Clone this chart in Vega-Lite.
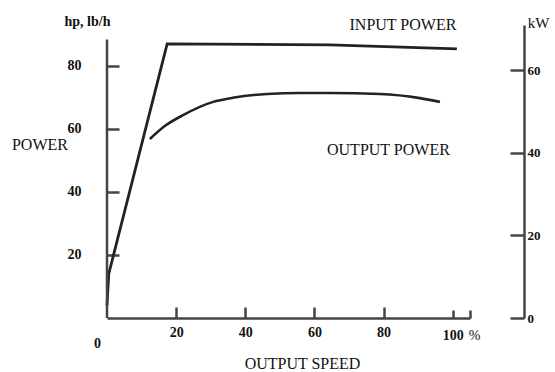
{
  "$schema": "https://vega.github.io/schema/vega-lite/v6.json",
  "width": 363,
  "height": 293,
  "autosize": {"type": "none"},
  "padding": {"left": 107, "top": 25, "right": 85, "bottom": 54},
  "background": "white",
  "config": {"view": {"stroke": null}, "font": "Liberation Serif", "axis": {"labelFont": "Liberation Serif", "titleFont": "Liberation Serif"}},
  "datasets": {
    "curves": [
      {"series": "input", "speed": 0, "power": 4},
      {"series": "input", "speed": 0.5, "power": 14},
      {"series": "input", "speed": 17.4, "power": 87.0},
      {"series": "input", "speed": 64.5, "power": 86.7},
      {"series": "input", "speed": 101.2, "power": 85.4},
      {"series": "output", "speed": 12.4, "power": 56.8},
      {"series": "output", "speed": 16.8, "power": 61.0},
      {"series": "output", "speed": 22.0, "power": 64.4},
      {"series": "output", "speed": 30.7, "power": 68.6},
      {"series": "output", "speed": 36.4, "power": 69.9},
      {"series": "output", "speed": 46.3, "power": 71.1},
      {"series": "output", "speed": 55.8, "power": 71.4},
      {"series": "output", "speed": 64.5, "power": 71.4},
      {"series": "output", "speed": 79.0, "power": 71.1},
      {"series": "output", "speed": 90.5, "power": 69.8},
      {"series": "output", "speed": 96.3, "power": 68.6}
    ],
    "labels": [
      {"label": "INPUT POWER", "speed": 85.6, "power": 93.0},
      {"label": "OUTPUT POWER", "speed": 81.4, "power": 53.3}
    ]
  },
  "layer": [
    {
      "layer": [
        {
          "data": {"name": "curves"},
          "transform": [{"filter": "datum.series == 'input'"}],
          "mark": {"type": "line", "color": "#222", "strokeWidth": 2.8, "interpolate": "linear"},
          "encoding": {
            "x": {
              "field": "speed", "type": "quantitative",
              "scale": {"domain": [0, 105], "nice": false, "zero": false},
              "axis": {
                "values": [0, 20, 40, 60, 80, 100, 105],
                "grid": false,
                "title": "OUTPUT SPEED",
                "titleFont": "Liberation Serif", "titleFontSize": 16, "titleFontWeight": "normal", "titleColor": "#111",
                "titleX": 195, "titleY": 45, "titleAlign": "center", "titleBaseline": "middle",
                "labelExpr": "datum.value == 105 ? '%' : datum.label",
                "labelFont": "Liberation Serif", "labelFontSize": 14, "labelColor": "#111",
                "labelFontWeight": {"condition": {"test": "datum.value == 105", "value": "normal"}, "value": "bold"},
                "labelOffset": {"condition": [{"test": "datum.value == 0", "value": -10}, {"test": "datum.value == 105", "value": 4}], "value": 0},
                "labelFlush": false, "labelOverlap": false,
                "labelPadding": 18,
                "tickSize": {"condition": [{"test": "datum.value == 0", "value": 0}, {"test": "datum.value >= 100", "value": -8}], "value": -11},
                "tickWidth": 2.5, "tickColor": "#444",
                "domainColor": "#444", "domainWidth": 2.5
              }
            },
            "y": {
              "field": "power", "type": "quantitative",
              "scale": {"domain": [0, 93], "nice": false},
              "axis": {
                "values": [20, 40, 60, 80],
                "grid": false,
                "domain": false,
                "title": "hp, lb/h",
                "titleAngle": 0, "titleX": -20, "titleY": -4, "titleAlign": "center", "titleBaseline": "middle",
                "titleFont": "Liberation Serif", "titleFontSize": 14, "titleFontWeight": "bold", "titleColor": "#111",
                "labelFont": "Liberation Serif", "labelFontSize": 14, "labelFontWeight": "bold", "labelColor": "#111",
                "labelPadding": 38,
                "tickSize": -12, "tickWidth": 2.5, "tickColor": "#444"
              }
            }
          }
        },
        {
          "data": {"name": "curves"},
          "transform": [{"filter": "datum.series == 'output'"}],
          "mark": {"type": "line", "color": "#222", "strokeWidth": 2.6, "interpolate": "monotone"},
          "encoding": {
            "x": {"field": "speed", "type": "quantitative"},
            "y": {"field": "power", "type": "quantitative"}
          }
        },
        {
          "data": {"values": [{}]},
          "mark": {"type": "rule", "color": "#444", "strokeWidth": 2.5},
          "encoding": {"x": {"datum": 0}, "y": {"datum": 0}, "y2": {"datum": 88.4}}
        },
        {
          "data": {"name": "labels"},
          "mark": {"type": "text", "font": "Liberation Serif", "fontSize": 16, "color": "#111", "baseline": "middle"},
          "encoding": {
            "x": {"field": "speed", "type": "quantitative"},
            "y": {"field": "power", "type": "quantitative"},
            "text": {"field": "label"}
          }
        },
        {
          "data": {"values": [{}]},
          "mark": {"type": "text", "font": "Liberation Serif", "fontSize": 16, "color": "#111", "baseline": "middle"},
          "encoding": {
            "x": {"datum": -19.4},
            "y": {"datum": 54.9},
            "text": {"value": "POWER"}
          }
        }
      ]
    },
    {
      "data": {"values": [{}]},
      "mark": {"type": "rule", "opacity": 0},
      "encoding": {
        "y": {
          "datum": 0, "type": "quantitative",
          "scale": {"domain": [0, 70.9], "nice": false},
          "axis": {
            "orient": "right", "offset": 54,
            "values": [0, 20, 40, 60],
            "grid": false,
            "title": "kW",
            "titleAngle": 0, "titleX": 14, "titleY": -3, "titleAlign": "center", "titleBaseline": "middle",
            "titleFont": "Liberation Serif", "titleFontSize": 15, "titleFontWeight": "normal", "titleColor": "#111",
            "labelFont": "Liberation Serif", "labelFontSize": 13, "labelFontWeight": "bold", "labelColor": "#111",
            "labelPadding": 17,
            "tickSize": -14, "tickWidth": 2.5, "tickColor": "#444",
            "domainColor": "#444", "domainWidth": 2.5
          }
        }
      }
    }
  ],
  "resolve": {"scale": {"y": "independent"}}
}
